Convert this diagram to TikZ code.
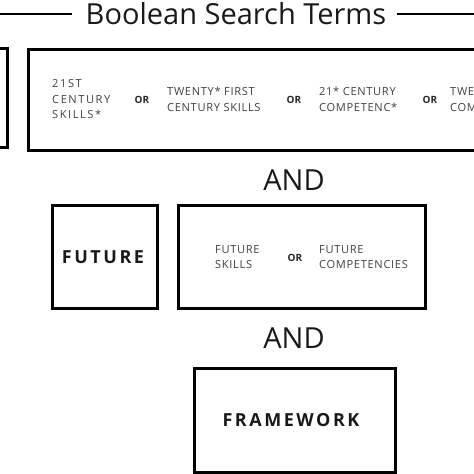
\documentclass[tikz,border=0pt]{standalone}
\usepackage{fontspec}
\setmainfont{Open Sans}
\newfontfamily\trkfont[LetterSpace=6]{Open Sans}
\newfontfamily\widefont[LetterSpace=14]{Open Sans}
\newfontfamily\trkbfont[LetterSpace=14]{Open Sans}
\begin{document}
\begin{tikzpicture}[x=1pt,y=-1pt,
  box/.style={draw=black, line width=3pt, inner sep=0pt, fill=none},
  term/.style={font=\trkfont\fontsize{11.1}{15.5}\selectfont, text=black!75, align=left, inner sep=0pt, anchor=west},
  wideterm/.style={term, font=\widefont\fontsize{11.1}{15.5}\selectfont},
  ortext/.style={font=\bfseries\fontsize{10}{12}\selectfont, text=black!85, inner sep=0pt},
  bigtext/.style={font=\fontsize{29}{33}\selectfont, text=black!90, inner sep=0pt},
  keyword/.style={font=\trkbfont\bfseries\fontsize{18}{21}\selectfont, text=black!90, inner sep=0pt},
  rule/.style={draw=black, line width=2pt}]
\useasboundingbox (0,0) rectangle (474,474);
\clip (0,0) rectangle (474,474);

% title
\node[bigtext] (title) at (236,14) {Boolean Search Terms};
\coordinate (tl) at (0,14);
\coordinate (tr) at (474,14);
\draw[rule] (tl) -- ([xshift=-14pt]title.west |- tl);
\draw[rule] ([xshift=11pt]title.east |- tr) -- (tr);

% row 1
\node[box, minimum width=97pt, minimum height=99pt] (leftbox) at (-41.5,97.5) {};
\node[box, minimum width=492pt, minimum height=101pt] (bigbox) at (274,99.5) {};
\node[wideterm] (t1) at (52,99.5) {21ST\\CENTURY\\SKILLS*};
\node[ortext] (o1) at (142,100) {OR};
\node[term] (t2) at (167,99.5) {TWENTY* FIRST\\CENTURY SKILLS};
\node[ortext] (o2) at (294,100) {OR};
\node[term] (t3) at (319,99.5) {21* CENTURY\\COMPETENC*};
\node[ortext] (o3) at (430,100) {OR};
\node[term] (t4) at (450,99.5) {TWENTY* FIRST\\COMPETENC*};

% row 2
\node[bigtext] (and1) at (294,180) {AND};
\node[box, minimum width=105pt, minimum height=103pt] (futbox) at (104.5,256.5) {};
\node[keyword] (fut) at (103,257) {FUTURE};
\node[box, minimum width=247pt, minimum height=103pt] (fbox) at (301.5,256.5) {};
\node[term] (f1) at (215,257) {FUTURE\\SKILLS};
\node[ortext] (o4) at (295,258) {OR};
\node[term] (f2) at (319,257) {FUTURE\\COMPETENCIES};

% row 3
\node[bigtext] (and2) at (294,338) {AND};
\node[box, minimum width=201pt, minimum height=104pt] (frbox) at (294.5,420) {};
\node[keyword] (fr) at (291,420) {FRAMEWORK};
\end{tikzpicture}
\end{document}
